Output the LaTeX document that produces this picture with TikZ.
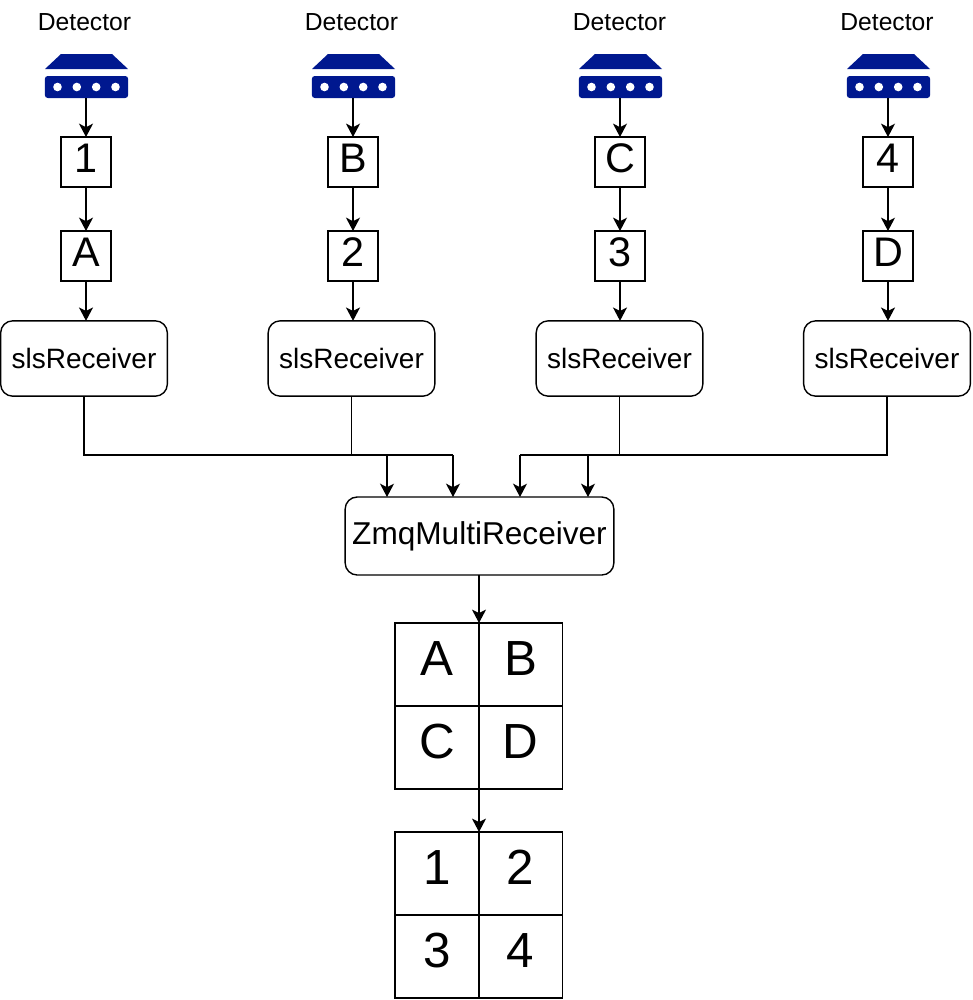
\documentclass[tikz,border=0pt]{standalone}
\usepackage{fontspec}
\setmainfont{Liberation Sans}
\definecolor{detblue}{RGB}{0, 24, 143}
\usetikzlibrary{arrows.meta, positioning}
\tikzset{
  wire/.style={-{Stealth[length=10pt, width=10.5pt, inset=2.6pt]}, line width=1.05pt, black},
  bus/.style={line width=1.05pt, black},
  smallbox/.style={draw, line width=1.05pt, minimum size=37.5pt, inner sep=0pt, outer sep=0pt, font=\fontsize{31}{31}\selectfont, text height=22pt, text depth=6pt},
  recvbox/.style={draw, line width=1.05pt, rounded corners=9pt, minimum width=125pt, minimum height=56.5pt, inner sep=0pt, outer sep=0pt, font=\fontsize{21}{22}\selectfont},
  zmqbox/.style={draw, line width=1.05pt, rounded corners=9pt, minimum width=201.5pt, minimum height=58.5pt, inner sep=0pt, outer sep=0pt, font=\fontsize{23.7}{24}\selectfont},
  gridcell/.style={draw, line width=1.05pt, minimum width=63pt, minimum height=62.3pt, inner sep=0pt, outer sep=0pt, font=\fontsize{37}{37}\selectfont, text height=26pt, text depth=9pt},
  detlabel/.style={font=\fontsize{18.5}{19}\selectfont},
  detector/.pic={
    \fill[detblue] (-25.5,-33) -- (25.5,-33) -- (41.5,-18) -- (-41.5,-18) -- cycle;
    \node[fill=detblue, rounded corners=2.2pt, minimum width=62.5pt, minimum height=16.5pt, inner sep=0pt, outer sep=0pt] (-body) at (0,0) {};
    \fill[white] (-29,0) circle (4.3) (-9.7,0) circle (4.3) (9.7,0) circle (4.3) (29,0) circle (4.3);
  }
}
\begin{document}
\begin{tikzpicture}[x=0.75pt, y=-0.75pt]
  \useasboundingbox (0,0) rectangle (972,1000);

  % Column 1
  \node[detlabel] (label1) at (84.5, 22) {Detector};
  \pic (det1) at (86.5, 87) {detector};
  \node[smallbox] (port1) at (86, 162) {1};
  \node[smallbox] (mod1) at (86, 256) {A};
  \node[recvbox] (recv1) at (84, 358.5) {slsReceiver};
  \draw[wire] (port1.north |- det1-body.south) -- (port1.north);
  \draw[wire] (port1.south) -- (mod1.north);
  \draw[wire] (mod1.south) -- (mod1.south |- recv1.north);

  % Column 2
  \node[detlabel] (label2) at (351.5, 22) {Detector};
  \pic (det2) at (353.5, 87) {detector};
  \node[smallbox] (port2) at (353, 162) {B};
  \node[smallbox] (mod2) at (353, 256) {2};
  \node[recvbox] (recv2) at (351.5, 358.5) {slsReceiver};
  \draw[wire] (port2.north |- det2-body.south) -- (port2.north);
  \draw[wire] (port2.south) -- (mod2.north);
  \draw[wire] (mod2.south) -- (mod2.south |- recv2.north);

  % Column 3
  \node[detlabel] (label3) at (619.5, 22) {Detector};
  \pic (det3) at (620.5, 87) {detector};
  \node[smallbox] (port3) at (620, 162) {C};
  \node[smallbox] (mod3) at (620, 256) {3};
  \node[recvbox] (recv3) at (619.5, 358.5) {slsReceiver};
  \draw[wire] (port3.north |- det3-body.south) -- (port3.north);
  \draw[wire] (port3.south) -- (mod3.north);
  \draw[wire] (mod3.south) -- (mod3.south |- recv3.north);

  % Column 4
  \node[detlabel] (label4) at (887, 22) {Detector};
  \pic (det4) at (888.5, 87) {detector};
  \node[smallbox] (port4) at (888, 162) {4};
  \node[smallbox] (mod4) at (888, 256) {D};
  \node[recvbox] (recv4) at (887, 358.5) {slsReceiver};
  \draw[wire] (port4.north |- det4-body.south) -- (port4.north);
  \draw[wire] (port4.south) -- (mod4.north);
  \draw[wire] (mod4.south) -- (mod4.south |- recv4.north);

  % Receiver merge
  \node[zmqbox] (zmq) at (479.5, 536) {ZmqMultiReceiver};
  \coordinate (in1) at (387, 497);
  \coordinate (in2) at (453, 497);
  \coordinate (in3) at (520, 497);
  \coordinate (in4) at (588, 497);
  \coordinate (busl) at (453, 455);
  \coordinate (busr) at (520, 455);
  \draw[bus] (recv1.south) |- (busl);
  \draw[bus] (recv2.south) |- (busl);
  \draw[bus] (recv3.south) |- (busr);
  \draw[bus] (recv4.south) |- (busr);
  \draw[wire] (busl) -- (in2);
  \draw[wire] (busr) -- (in3);
  \draw[wire] (in1 |- busl) -- (in1);
  \draw[wire] (in4 |- busr) -- (in4);

  % Module grid
  \node[gridcell] (gridA) at (437, 664.5) {A};
  \node[gridcell] (gridB) at (520.5, 664.5) {B};
  \node[gridcell] (gridC) at (437, 747.5) {C};
  \node[gridcell] (gridD) at (520.5, 747.5) {D};
  \draw[wire] (gridA.north east |- zmq.south) -- (gridA.north east);

  % Port grid
  \node[gridcell] (grid1) at (437, 873.5) {1};
  \node[gridcell] (grid2) at (520.5, 873.5) {2};
  \node[gridcell] (grid3) at (437, 956.5) {3};
  \node[gridcell] (grid4) at (520.5, 956.5) {4};
  \draw[wire] (gridC.south east) -- (grid1.north east);
\end{tikzpicture}
\end{document}
